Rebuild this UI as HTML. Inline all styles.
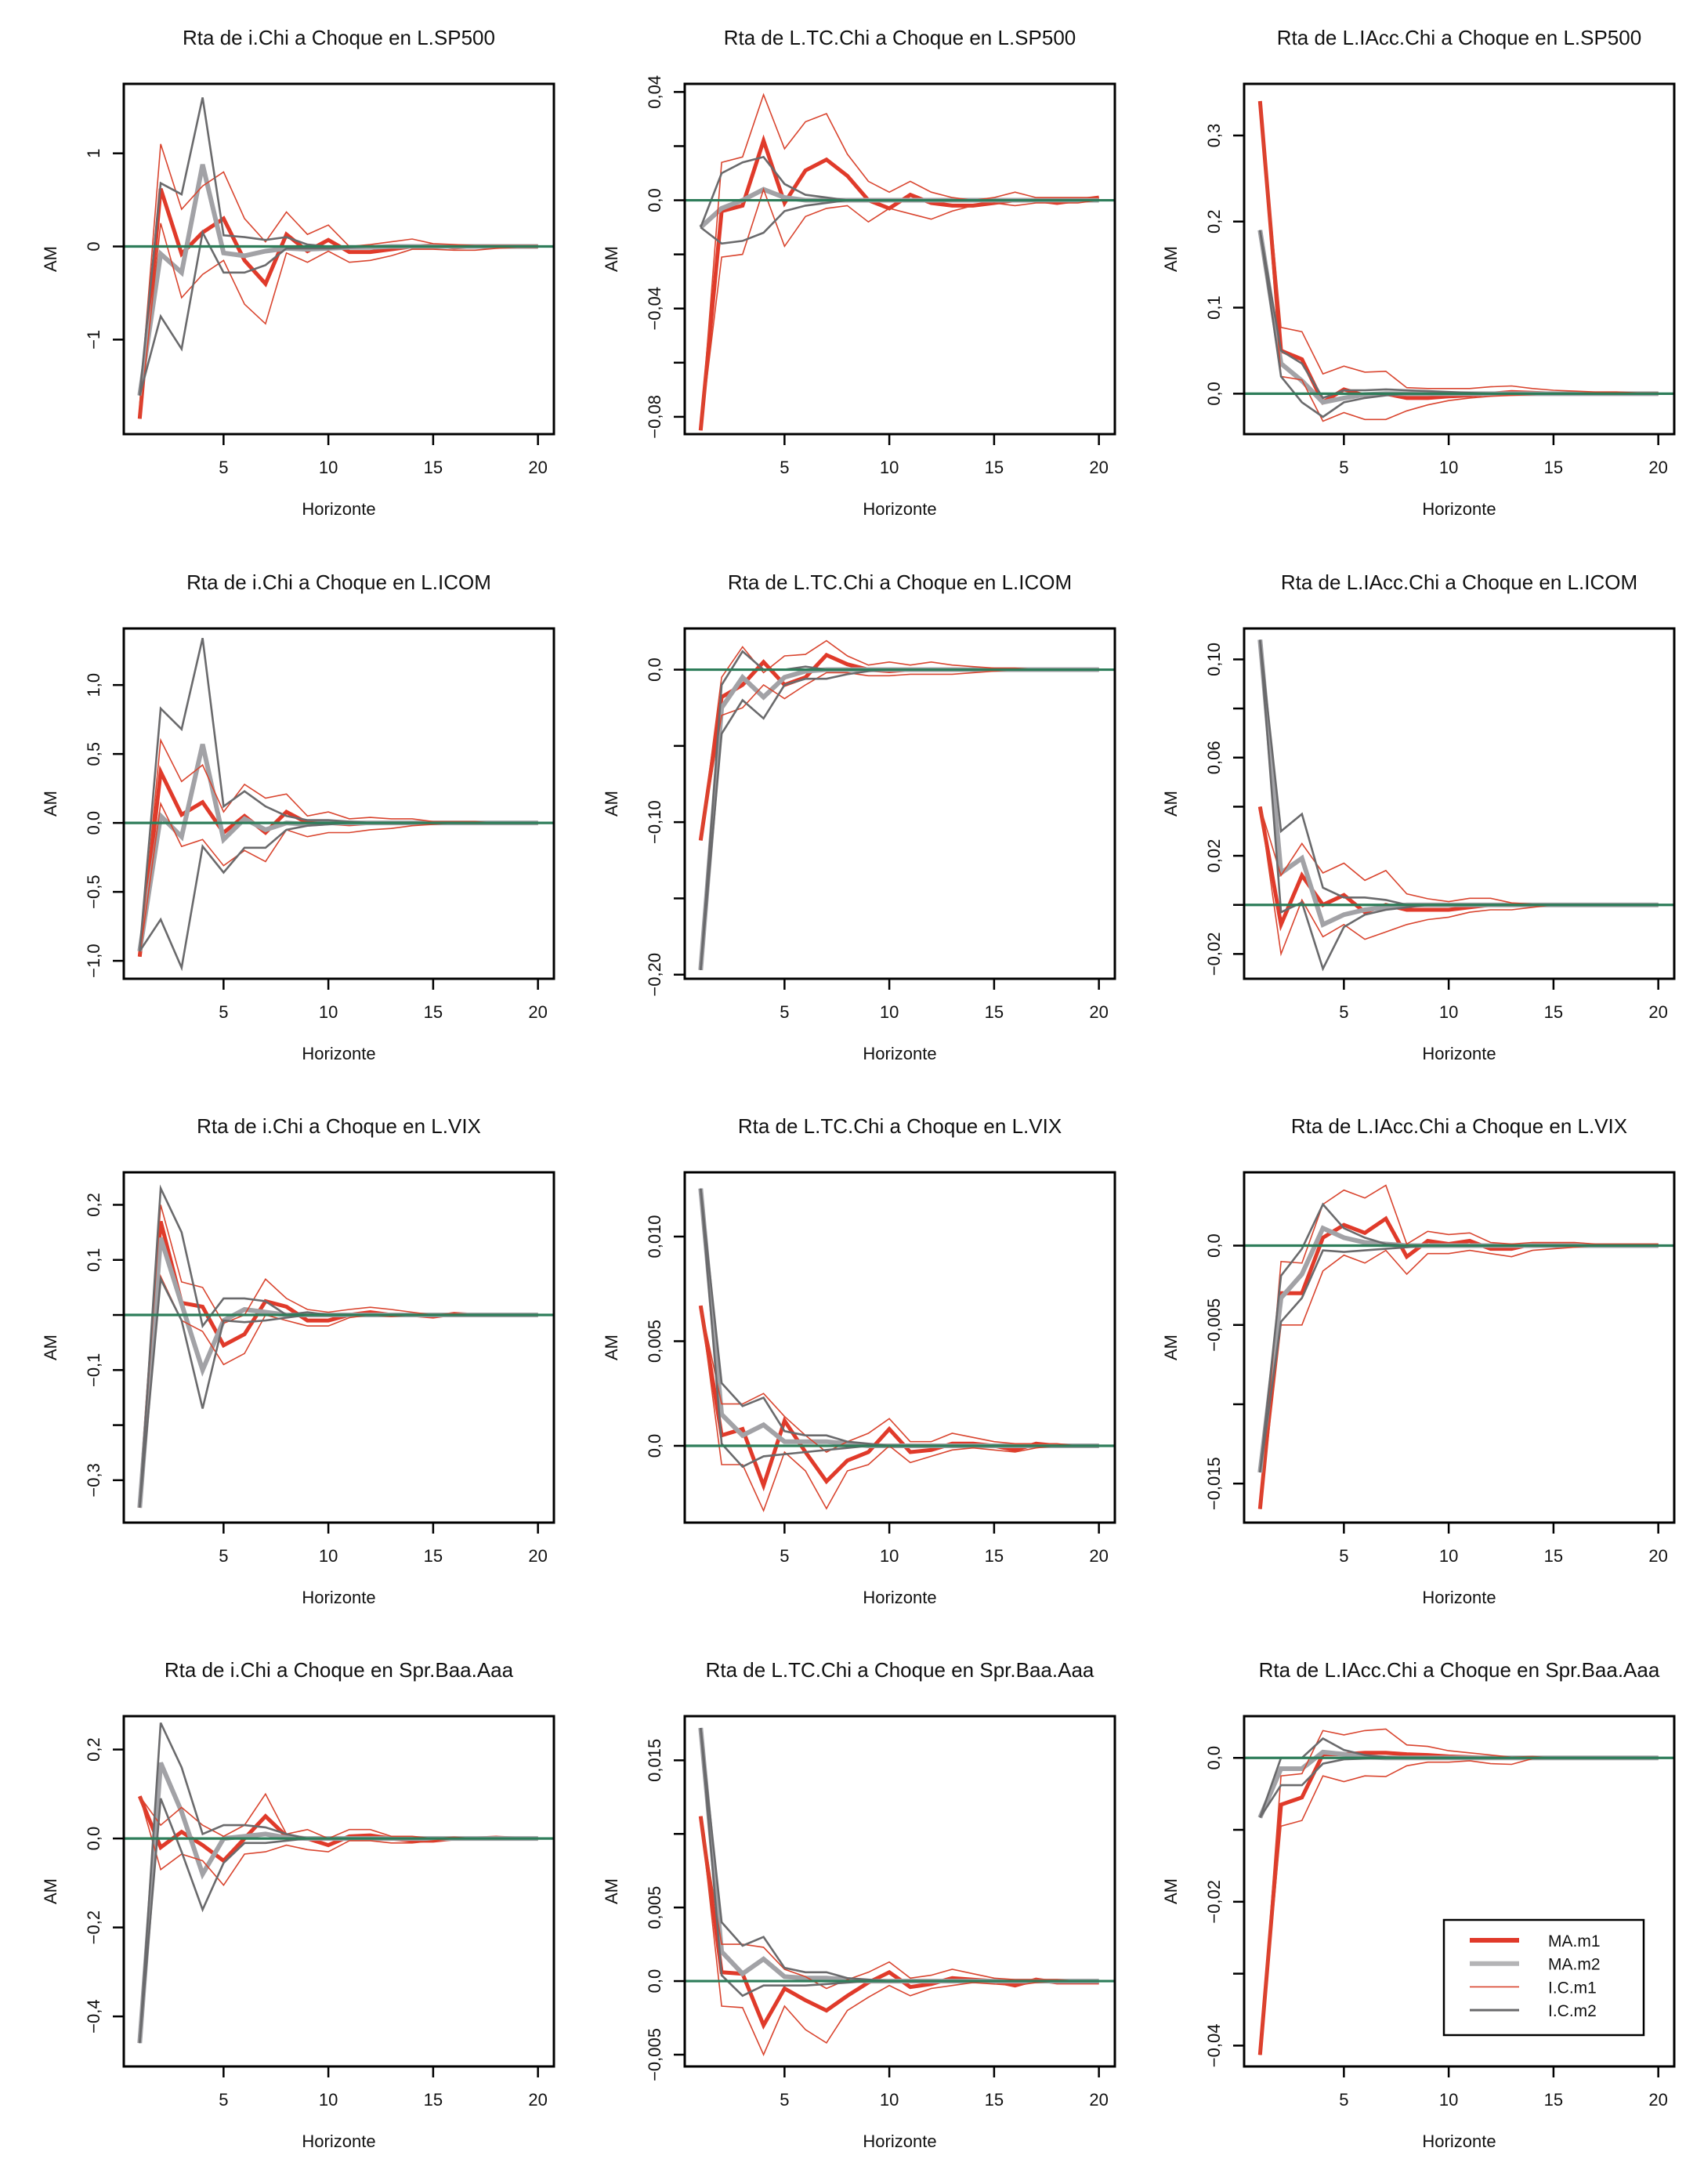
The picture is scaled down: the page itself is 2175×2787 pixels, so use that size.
<!DOCTYPE html>
<html><head><meta charset="utf-8"><title>IRF panels</title>
<style>
html,body{margin:0;padding:0;background:#fff;}
svg{display:block;font-family:"Liberation Sans",Arial,sans-serif;}
</style></head>
<body>
<svg id="chart" width="2175" height="2787" viewBox="0 0 2175 2787" xmlns="http://www.w3.org/2000/svg"></svg>
<script>
const horizons = [1,2,3,4,5,6,7,8,9,10,11,12,13,14,15,16,17,18,19,20];
const xTicks = [5,10,15,20];
const colVars = ["i.Chi","L.TC.Chi","L.IAcc.Chi"];
const rowShocks = ["L.SP500","L.ICOM","L.VIX","Spr.Baa.Aaa"];

// y ranges per panel
const yLim11=[-2.015,1.746], yLim12=[-0.0864,0.043], yLim13=[-0.047,0.36];
const yLim21=[-1.13,1.41], yLim22=[-0.2027,0.027], yLim23=[-0.0301,0.1126];
const yLim31=[-0.377,0.259], yLim32=[-0.00367,0.01307], yLim33=[-0.01746,0.00462];
const yLim41=[-0.5125,0.275], yLim42=[-0.0058,0.018], yLim43=[-0.0429,0.0058];

// y ticks and labels (label "" = unlabeled tick)
const yT11=[-1,0,1], yL11=["\u22121","0","1"];
const yT12=[-0.08,-0.06,-0.04,-0.02,0,0.02,0.04], yL12=["\u22120,08","","\u22120,04","","0,0","","0,04"];
const yT13=[0,0.1,0.2,0.3], yL13=["0,0","0,1","0,2","0,3"];
const yT21=[-1,-0.5,0,0.5,1], yL21=["\u22121,0","\u22120,5","0,0","0,5","1,0"];
const yT22=[-0.2,-0.15,-0.1,-0.05,0], yL22=["\u22120,20","","\u22120,10","","0,0"];
const yT23=[-0.02,0,0.02,0.04,0.06,0.08,0.10], yL23=["\u22120,02","","0,02","","0,06","","0,10"];
const yT31=[-0.3,-0.2,-0.1,0,0.1,0.2], yL31=["\u22120,3","","\u22120,1","","0,1","0,2"];
const yT32=[0,0.005,0.01], yL32=["0,0","0,005","0,010"];
const yT33=[-0.015,-0.01,-0.005,0], yL33=["\u22120,015","","\u22120,005","0,0"];
const yT41=[-0.4,-0.2,0,0.2], yL41=["\u22120,4","\u22120,2","0,0","0,2"];
const yT42=[-0.005,0,0.005,0.01,0.015], yL42=["\u22120,005","0,0","0,005","","0,015"];
const yT43=[-0.04,-0.03,-0.02,-0.01,0], yL43=["\u22120,04","","\u22120,02","","0,0"];

// Panel 1,1
const m1_11=[-1.85,0.62,-0.08,0.15,0.3,-0.15,-0.4,0.13,-0.05,0.07,-0.06,-0.06,-0.03,0,0.01,-0.01,0,0,0,0];
const m2_11=[-1.6,-0.08,-0.28,0.88,-0.07,-0.1,-0.05,-0.02,-0.03,-0.02,-0.01,-0.01,0,0,0,0,0,0,0,0];
const hi1_11=[-1.7,1.1,0.4,0.65,0.8,0.3,0.05,0.37,0.13,0.23,0,0.02,0.05,0.08,0.03,0.02,0.01,0.01,0.01,0.01];
const lo1_11=[-1.85,0.25,-0.55,-0.3,-0.15,-0.62,-0.83,-0.07,-0.17,-0.05,-0.17,-0.15,-0.1,-0.03,-0.03,-0.04,-0.04,-0.02,-0.01,-0.01];
const hi2_11=[-1.6,0.68,0.56,1.6,0.12,0.1,0.07,0.1,0.02,0,0,0,0,0,0,0,0,0,0,0];
const lo2_11=[-1.6,-0.75,-1.1,0.15,-0.28,-0.28,-0.2,-0.02,-0.02,-0.02,-0.01,0,0,0,0,0,0,0,0,0];
// Panel 1,2
const m1_12=[-0.085,-0.004,-0.002,0.022,-0.001,0.011,0.015,0.009,0,-0.003,0.002,-0.001,-0.002,-0.002,-0.001,0,0,-0.001,0,0.001];
const m2_12=[-0.01,-0.003,0,0.004,0.001,0,0,0,0,0,0,0,0,0,0,0,0,0,0,0];
const hi1_12=[-0.085,0.014,0.016,0.039,0.019,0.029,0.032,0.017,0.007,0.003,0.007,0.003,0.001,0,0.001,0.003,0.001,0.001,0.001,0.001];
const lo1_12=[-0.085,-0.021,-0.02,0.004,-0.017,-0.006,-0.003,-0.002,-0.008,-0.003,-0.005,-0.007,-0.004,-0.002,-0.001,-0.002,-0.001,-0.001,-0.001,0];
const hi2_12=[-0.01,0.01,0.014,0.016,0.006,0.002,0.001,0,0,0,0,0,0,0,0,0,0,0,0,0];
const lo2_12=[-0.01,-0.016,-0.015,-0.012,-0.004,-0.002,-0.001,0,0,0,0,0,0,0,0,0,0,0,0,0];
// Panel 1,3
const m1_13=[0.34,0.05,0.04,-0.01,0.005,-0.002,0,-0.005,-0.005,-0.003,-0.002,0,0.002,0.001,0,0,0,0,0,0];
const m2_13=[0.19,0.035,0.015,-0.01,-0.005,-0.001,0,0,0,0,0,0,0,0,0,0,0,0,0,0];
const hi1_13=[0.34,0.077,0.072,0.023,0.032,0.025,0.026,0.007,0.006,0.006,0.006,0.008,0.009,0.006,0.004,0.003,0.002,0.002,0.001,0.001];
const lo1_13=[0.34,0.02,0.016,-0.032,-0.022,-0.03,-0.03,-0.02,-0.013,-0.008,-0.005,-0.003,-0.002,-0.001,0,0,0,0,0,0];
const hi2_13=[0.19,0.05,0.035,-0.005,0.004,0.004,0.005,0.004,0.003,0.002,0.001,0,0,0,0,0,0,0,0,0];
const lo2_13=[0.19,0.02,-0.01,-0.027,-0.01,-0.005,-0.002,0,0,0,0,0,0,0,0,0,0,0,0,0];
// Panel 2,1
const m1_21=[-0.97,0.37,0.06,0.15,-0.07,0.05,-0.07,0.08,0,0,-0.01,0,0,0,0,0,0,0,0,0];
const m2_21=[-0.93,0.05,-0.1,0.57,-0.12,0.03,-0.05,0,-0.01,0,0,0,0,0,0,0,0,0,0,0];
const hi1_21=[-0.97,0.6,0.3,0.42,0.08,0.28,0.18,0.21,0.05,0.08,0.03,0.04,0.03,0.03,0.01,0.01,0.01,0,0,0];
const lo1_21=[-0.97,0.14,-0.17,-0.12,-0.31,-0.2,-0.28,-0.05,-0.1,-0.07,-0.07,-0.05,-0.04,-0.02,-0.01,0,0,0,0,0];
const hi2_21=[-0.93,0.83,0.68,1.34,0.12,0.23,0.12,0.05,0.02,0.02,0.01,0,0,0,0,0,0,0,0,0];
const lo2_21=[-0.93,-0.7,-1.05,-0.17,-0.36,-0.18,-0.18,-0.05,-0.02,-0.01,0,0,0,0,0,0,0,0,0,0];
// Panel 2,2
const m1_22=[-0.112,-0.018,-0.01,0.005,-0.01,-0.005,0.0096,0.0035,0,-0.001,0,0,0,0,0,0,0,0,0,0];
const m2_22=[-0.197,-0.025,-0.005,-0.018,-0.005,-0.001,0,0,0,0,0,0,0,0,0,0,0,0,0,0];
const hi1_22=[-0.112,-0.005,0.015,-0.002,0.009,0.01,0.019,0.009,0.003,0.005,0.003,0.005,0.003,0.002,0.001,0.001,0,0,0,0];
const lo1_22=[-0.112,-0.03,-0.025,-0.01,-0.019,-0.01,-0.002,-0.002,-0.004,-0.004,-0.003,-0.003,-0.003,-0.002,-0.001,0,0,0,0,0];
const hi2_22=[-0.197,-0.01,0.012,0,0,0.002,0,0,0,0,0,0,0,0,0,0,0,0,0,0];
const lo2_22=[-0.197,-0.042,-0.02,-0.032,-0.01,-0.006,-0.006,-0.003,-0.001,0,0,0,0,0,0,0,0,0,0,0];
// Panel 2,3
const m1_23=[0.04,-0.008,0.012,0,0.004,-0.003,0,-0.002,-0.002,-0.002,-0.001,0,0,0,0,0,0,0,0,0];
const m2_23=[0.108,0.013,0.019,-0.008,-0.004,-0.002,-0.001,0,0,0,0,0,0,0,0,0,0,0,0,0];
const hi1_23=[0.04,0.012,0.025,0.013,0.017,0.01,0.014,0.0045,0.0025,0.0013,0.0027,0.0027,0.0008,0.0003,0,0,0,0,0,0];
const lo1_23=[0.04,-0.02,0.002,-0.013,-0.008,-0.014,-0.011,-0.008,-0.006,-0.005,-0.003,-0.002,-0.002,-0.001,0,0,0,0,0,0];
const hi2_23=[0.108,0.03,0.037,0.007,0.003,0.003,0.002,0,0,0,0,0,0,0,0,0,0,0,0,0];
const lo2_23=[0.108,-0.003,0.001,-0.026,-0.009,-0.004,-0.002,-0.001,0,0,0,0,0,0,0,0,0,0,0,0];
// Panel 3,1
const m1_31=[-0.35,0.17,0.022,0.015,-0.055,-0.035,0.025,0.015,-0.01,-0.01,0,0.005,0,0,-0.003,0.002,0,0,0,0];
const m2_31=[-0.35,0.14,0.02,-0.1,-0.01,0.01,0.005,0,0,0,0,0,0,0,0,0,0,0,0,0];
const hi1_31=[-0.35,0.2,0.06,0.05,-0.015,0,0.065,0.03,0.01,0.005,0.01,0.014,0.01,0.005,0,0.003,0,0,0,0];
const lo1_31=[-0.35,0.07,-0.01,-0.03,-0.09,-0.07,0,-0.01,-0.02,-0.02,-0.005,0,-0.003,0,0,0,0,0,0,0];
const hi2_31=[-0.35,0.23,0.15,-0.02,0.03,0.03,0.025,0,0.005,0,0,0,0,0,0,0,0,0,0,0];
const lo2_31=[-0.35,0.065,-0.01,-0.17,-0.01,-0.013,-0.01,-0.005,0,0,0,0,0,0,0,0,0,0,0,0];
// Panel 3,2
const m1_32=[0.0067,0.0005,0.0008,-0.0019,0.0012,-0.0003,-0.0017,-0.0007,-0.0003,0.0008,-0.0003,-0.0002,0.0001,0.0001,0,-0.0002,0.0001,0,0,0];
const m2_32=[0.0123,0.0015,0.0005,0.001,0.0002,0.0002,0.0002,0.0001,0,0,0,0,0,0,0,0,0,0,0,0];
const hi1_32=[0.0067,0.002,0.002,0.0025,0.0014,0.0005,-0.0003,0.0002,0.0006,0.0013,0.0002,0.0002,0.0006,0.0004,0.0002,0.0001,0.0001,0.0001,0,0];
const lo1_32=[0.0067,-0.0009,-0.0009,-0.0031,-0.0003,-0.0012,-0.003,-0.0012,-0.0009,0,-0.0008,-0.0005,-0.0002,-0.0001,-0.0002,-0.0003,-0.0001,0,0,0];
const hi2_32=[0.0123,0.003,0.0019,0.0023,0.0007,0.0005,0.0005,0.0002,0.0001,0,0,0,0,0,0,0,0,0,0,0];
const lo2_32=[0.0123,0.0001,-0.001,-0.0005,-0.0004,-0.0003,-0.0002,-0.0001,0,0,0,0,0,0,0,0,0,0,0,0];
// Panel 3,3
const m1_33=[-0.0166,-0.003,-0.003,0.0005,0.0013,0.0008,0.0017,-0.0007,0.0003,0.0001,0.0003,-0.0002,-0.0002,0.0001,0.0001,0.0001,0,0,0,0];
const m2_33=[-0.0143,-0.0033,-0.0018,0.0011,0.0005,0.0002,0.0001,0,0,0,0,0,0,0,0,0,0,0,0,0];
const hi1_33=[-0.0166,-0.001,-0.0011,0.0026,0.0035,0.003,0.0038,0.0001,0.0009,0.0007,0.0008,0.0002,0.0001,0.0002,0.0002,0.0002,0.0001,0.0001,0.0001,0.0001];
const lo1_33=[-0.0166,-0.005,-0.005,-0.0016,-0.0006,-0.0011,-0.0003,-0.0018,-0.0005,-0.0005,-0.0003,-0.0005,-0.0007,-0.0003,-0.0002,-0.0001,0,0,0,0];
const hi2_33=[-0.0143,-0.0019,-0.0002,0.0026,0.0011,0.0005,0.0001,0,0,0,0,0,0,0,0,0,0,0,0,0];
const lo2_33=[-0.0143,-0.0048,-0.0033,-0.0003,-0.0004,-0.0003,-0.0002,-0.0001,0,0,0,0,0,0,0,0,0,0,0,0];
// Panel 4,1
const m1_41=[0.095,-0.02,0.015,-0.015,-0.05,0,0.05,0.005,0,-0.015,0.005,0.007,0,-0.005,-0.005,0,0,0.002,0,0];
const m2_41=[-0.46,0.17,0.06,-0.08,0,0.005,0.01,0.002,0,0,0,0,0,0,0,0,0,0,0,0];
const hi1_41=[0.095,0.03,0.07,0.03,0.005,0.03,0.1,0.01,0.02,0,0.02,0.02,0.005,0.005,0,0.003,0,0,0,0];
const lo1_41=[0.095,-0.07,-0.035,-0.05,-0.105,-0.035,-0.03,-0.015,-0.025,-0.03,-0.005,-0.005,-0.01,-0.01,-0.005,0,0,0,0,0];
const hi2_41=[-0.46,0.26,0.16,0.01,0.03,0.03,0.025,0.01,0,0,0,0,0,0,0,0,0,0,0,0];
const lo2_41=[-0.46,0.09,-0.03,-0.16,-0.055,-0.01,-0.01,-0.005,0,0,0,0,0,0,0,0,0,0,0,0];
// Panel 4,2
const m1_42=[0.0112,0.0006,0.0005,-0.003,-0.0005,-0.0013,-0.002,-0.001,-0.0001,0.0006,-0.0004,-0.0002,0.0002,0.0001,0,-0.0003,0.0001,-0.0001,-0.0001,-0.0001];
const m2_42=[0.0172,0.002,0.0005,0.0015,0.0003,0.0002,0.0002,0.0001,0,0,0,0,0,0,0,0,0,0,0,0];
const hi1_42=[0.0112,0.0025,0.0025,0.0023,0.0008,0.0003,-0.0005,0.0001,0.0006,0.0013,0.0002,0.0004,0.0008,0.0005,0.0002,0.0001,0.0001,0.0001,0,0];
const lo1_42=[0.0112,-0.0017,-0.0018,-0.005,-0.0017,-0.0033,-0.0042,-0.002,-0.0011,-0.0003,-0.001,-0.0005,-0.0003,-0.0001,-0.0002,-0.0003,-0.0001,0,0,0];
const hi2_42=[0.0172,0.004,0.0024,0.003,0.0009,0.0006,0.0006,0.0002,0.0001,0,0,0,0,0,0,0,0,0,0,0];
const lo2_42=[0.0172,0.0004,-0.001,-0.0003,-0.0003,-0.0003,-0.0002,-0.0001,0,0,0,0,0,0,0,0,0,0,0,0];
// Panel 4,3
const m1_43=[-0.0413,-0.0065,-0.0055,0.0005,0.0005,0.0007,0.0007,0.0005,0.0004,0.0002,0.0001,0,0,0,0,0,0,0,0,0];
const m2_43=[-0.0083,-0.0015,-0.0015,0.0008,0.0005,0.0001,0,0,0,0,0,0,0,0,0,0,0,0,0,0];
const hi1_43=[-0.0413,-0.0025,-0.0022,0.0038,0.0032,0.0038,0.004,0.0018,0.0016,0.001,0.0007,0.0004,0.0001,0.0002,0,0,0,0,0,0];
const lo1_43=[-0.0413,-0.0095,-0.0087,-0.0025,-0.0033,-0.0025,-0.0026,-0.0011,-0.0006,-0.0006,-0.0004,-0.0008,-0.0009,-0.0001,0,0,0,0,0,0];
const hi2_43=[-0.0083,0,0,0.0027,0.0011,0.0004,0.0001,0,0,0,0,0,0,0,0,0,0,0,0,0];
const lo2_43=[-0.0083,-0.0038,-0.0038,-0.0008,-0.0002,-0.0001,0,0,0,0,0,0,0,0,0,0,0,0,0,0];

const panels = [
 [yLim11,yT11,yL11,m1_11,m2_11,hi1_11,lo1_11,hi2_11,lo2_11],
 [yLim12,yT12,yL12,m1_12,m2_12,hi1_12,lo1_12,hi2_12,lo2_12],
 [yLim13,yT13,yL13,m1_13,m2_13,hi1_13,lo1_13,hi2_13,lo2_13],
 [yLim21,yT21,yL21,m1_21,m2_21,hi1_21,lo1_21,hi2_21,lo2_21],
 [yLim22,yT22,yL22,m1_22,m2_22,hi1_22,lo1_22,hi2_22,lo2_22],
 [yLim23,yT23,yL23,m1_23,m2_23,hi1_23,lo1_23,hi2_23,lo2_23],
 [yLim31,yT31,yL31,m1_31,m2_31,hi1_31,lo1_31,hi2_31,lo2_31],
 [yLim32,yT32,yL32,m1_32,m2_32,hi1_32,lo1_32,hi2_32,lo2_32],
 [yLim33,yT33,yL33,m1_33,m2_33,hi1_33,lo1_33,hi2_33,lo2_33],
 [yLim41,yT41,yL41,m1_41,m2_41,hi1_41,lo1_41,hi2_41,lo2_41],
 [yLim42,yT42,yL42,m1_42,m2_42,hi1_42,lo1_42,hi2_42,lo2_42],
 [yLim43,yT43,yL43,m1_43,m2_43,hi1_43,lo1_43,hi2_43,lo2_43]
];

const NS = "http://www.w3.org/2000/svg";
const svg = document.getElementById("chart");
const lefts = [158,874,1588], tops = [107,802,1496,2190];
const PW = 549, PH = 447;
const XMIN = 0.24, XMAX = 20.76;
const RED = "#e03a2a", RED_THIN = "#d9452f", GRAY_THICK = "#a2a2a6", GRAY_CI = "#6a6a6c", GREEN = "#2e7d5a";

function mk(tag, attrs, parent) {
  const e = document.createElementNS(NS, tag);
  for (const k in attrs) e.setAttribute(k, attrs[k]);
  (parent || svg).appendChild(e);
  return e;
}

panels.forEach((p, idx) => {
  const r = Math.floor(idx / 3), c = idx % 3;
  const L = lefts[c], T = tops[r];
  const [ylim, yt, yl, m1, m2, hi1, lo1, hi2, lo2] = p;
  const xs = v => L + (v - XMIN) / (XMAX - XMIN) * PW;
  const ys = v => T + (ylim[1] - v) / (ylim[1] - ylim[0]) * PH;

  const g = mk("g", {});
  
  

  const title = mk("text", {x: L + PW/2, y: T - 50, "text-anchor": "middle", "font-size": 26, fill: "#111"}, g);
  title.textContent = "Rta de " + colVars[c] + " a Choque en " + rowShocks[r];
  
  

  const series = [
    [m1, RED, 5, 'ma-m1-line'],
    [m2, GRAY_THICK, 6, 'ma-m2-line'],
    [hi1, RED_THIN, 1.6, 'ic-m1-upper'],
    [lo1, RED_THIN, 1.6, 'ic-m1-lower'],
    [hi2, GRAY_CI, 2.6, 'ic-m2-upper'],
    [lo2, GRAY_CI, 2.6, 'ic-m2-lower']
  ];
  series.forEach(s => {
    const pts = s[0].map((v, i) => xs(horizons[i]).toFixed(1) + "," + ys(v).toFixed(1)).join(" ");
    const pl = mk("polyline", {points: pts, fill: "none", stroke: s[1], "stroke-width": s[2], "stroke-linejoin": "miter"}, g);
    
    
  });

  const zl = mk("line", {x1: L, x2: L + PW, y1: ys(0), y2: ys(0), stroke: GREEN, "stroke-width": 3.2}, g);
  
  

  const box = mk("rect", {x: L, y: T, width: PW, height: PH, fill: "none", stroke: "#000", "stroke-width": 3}, g);
  
  

  // x axis
  const xa = mk("g", {}, g);
  
  
  xTicks.forEach(t => {
    mk("line", {x1: xs(t), x2: xs(t), y1: T + PH, y2: T + PH + 14, stroke: "#000", "stroke-width": 2.5}, xa);
    const tl = mk("text", {x: xs(t), y: T + PH + 50, "text-anchor": "middle", "font-size": 22, fill: "#111"}, xa);
    tl.textContent = String(t);
    
    
  });
  const xt = mk("text", {x: L + PW/2, y: T + PH + 103, "text-anchor": "middle", "font-size": 22, fill: "#111"}, g);
  xt.textContent = "Horizonte";
  
  

  // y axis
  const ya = mk("g", {}, g);
  
  
  yt.forEach((t, i) => {
    const y = ys(t);
    mk("line", {x1: L - 14, x2: L, y1: y, y2: y, stroke: "#000", "stroke-width": 2.5}, ya);
    if (yl[i]) {
      const lx = L - 31;
      const tl = mk("text", {x: lx, y: y, "text-anchor": "middle", "font-size": 22, fill: "#111", transform: "rotate(-90 " + lx + " " + y + ")"}, ya);
      tl.textContent = yl[i];
      
      
    }
  });
  const ax = L - 86, ay = T + PH/2;
  const yTitle = mk("text", {x: ax, y: ay, "text-anchor": "middle", "font-size": 22, fill: "#111", transform: "rotate(-90 " + ax + " " + ay + ")"}, g);
  yTitle.textContent = "AM";
  
  
});

// legend in last panel
const legendNames = ["MA.m1","MA.m2","I.C.m1","I.C.m2"];
const legendColors = [RED, "#b4b4b6", RED_THIN, GRAY_CI];
const legendWidths = [6, 6, 1.6, 3];
const lg = mk("g", {});


const lbox = mk("rect", {x: 1843, y: 2450, width: 255, height: 147, fill: "#fff", stroke: "#000", "stroke-width": 2.5}, lg);


legendNames.forEach((n, i) => {
  const y = 2476 + i * 29.7;
  const ll = mk("line", {x1: 1876, x2: 1939, y1: y, y2: y, stroke: legendColors[i], "stroke-width": legendWidths[i]}, lg);
  
  
  const lt = mk("text", {x: 1976, y: y + 8, "font-size": 21, fill: "#111"}, lg);
  lt.textContent = n;
  
  
});
</script>
</body></html>
